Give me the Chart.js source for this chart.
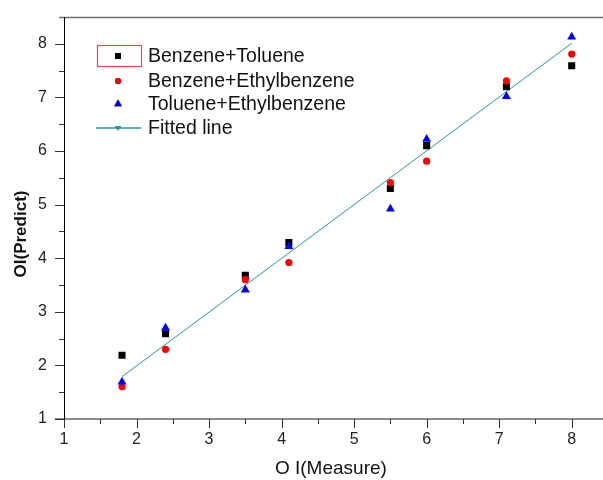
<!DOCTYPE html>
<html>
<head>
<meta charset="utf-8">
<script src="https://cdn.jsdelivr.net/npm/chart.js@4/dist/chart.umd.min.js"></script>
<style>
  html, body { margin: 0; padding: 0; background: #fff; }
  #wrap { width: 603px; height: 480px; }
</style>
</head>
<body>
<div id="wrap"><canvas id="oi-chart"></canvas></div>
<script>
// OI measured vs predicted
const measured = [1.8, 2.4, 3.5, 4.1, 5.5, 6.0, 7.1, 8.0];
const benzeneToluene = [2.19, 2.59, 3.68, 4.29, 5.30, 6.10, 7.20, 7.59];
const benzeneEthylbenzene = [1.60, 2.30, 3.60, 3.92, 5.41, 5.81, 7.31, 7.81];
const tolueneEthylbenzene = [1.69, 2.70, 3.41, 4.22, 4.92, 6.22, 7.02, 8.13];
const fitX = [1.8, 8.0];
const fitY = [1.79, 8.01];
const tickLabels = ['1', '2', '3', '4', '5', '6', '7', '8'];

const FONT = "'Liberation Sans', Arial, sans-serif";

function pairs(xs, ys) {
    return xs.map((x, i) => ({ x: x, y: ys[i] }));
}

const datasets = [
    {
        label: 'Benzene+Toluene',
        data: pairs(measured, benzeneToluene),
        pointStyle: 'rect',
        pointRadius: 5,
        backgroundColor: '#000000',
        borderColor: '#000000',
        borderWidth: 0,
        showLine: false,
        order: 3
    },
    {
        label: 'Benzene+Ethylbenzene',
        data: pairs(measured, benzeneEthylbenzene),
        pointStyle: 'circle',
        pointRadius: 3.6,
        backgroundColor: '#ff0000',
        borderColor: '#ff0000',
        borderWidth: 0,
        showLine: false,
        order: 2
    },
    {
        label: 'Toluene+Ethylbenzene',
        data: pairs(measured, tolueneEthylbenzene),
        pointStyle: 'triangle',
        pointRadius: 5.2,
        backgroundColor: '#0000ff',
        borderColor: '#0000ff',
        borderWidth: 0,
        showLine: false,
        order: 1
    },
    {
        label: 'Fitted line',
        data: pairs(fitX, fitY),
        pointRadius: 0,
        borderColor: '#2a9898',
        borderWidth: 1,
        showLine: true,
        fill: false,
        order: 4
    }
];

// axis frame, major/minor ticks, y title and the legend box
const framePlugin = {
    id: 'frame',
    afterDraw(chart) {
        const ctx = chart.ctx;
        const area = chart.chartArea;
        const xs = chart.scales.x;
        const ys = chart.scales.y;
        ctx.save();

        // top frame
        ctx.strokeStyle = '#707070';
        ctx.lineWidth = 1.5;
        ctx.beginPath();
        ctx.moveTo(59, area.top + 0.5);
        ctx.lineTo(chart.width, area.top + 0.5);
        ctx.stroke();

        // bottom axis
        ctx.strokeStyle = '#666666';
        ctx.lineWidth = 1.3;
        ctx.beginPath();
        ctx.moveTo(55, area.bottom);
        ctx.lineTo(chart.width, area.bottom);
        ctx.stroke();

        // left axis
        ctx.strokeStyle = '#000000';
        ctx.lineWidth = 1;
        ctx.beginPath();
        ctx.moveTo(area.left + 0.5, area.top);
        ctx.lineTo(area.left + 0.5, area.bottom + 9);
        ctx.stroke();

        // ticks
        ctx.strokeStyle = '#333333';
        for (let v = 1; v <= 8; v += 0.5) {
            const len = Number.isInteger(v) ? 9 : 5;
            const px = Math.round(xs.getPixelForValue(v)) + 0.5;
            ctx.beginPath();
            ctx.moveTo(px, area.bottom);
            ctx.lineTo(px, area.bottom + len);
            ctx.stroke();
            const py = Math.round(ys.getPixelForValue(v)) + 0.5;
            ctx.beginPath();
            ctx.moveTo(area.left, py);
            ctx.lineTo(area.left - len, py);
            ctx.stroke();
        }

        // y title
        ctx.save();
        ctx.translate(21, 234);
        ctx.rotate(-Math.PI / 2);
        ctx.fillStyle = '#111111';
        ctx.font = 'bold 17px ' + FONT;
        ctx.textAlign = 'center';
        ctx.textBaseline = 'middle';
        ctx.fillText('OI(Predict)', 0, 0);
        ctx.restore();

        // legend
        const rows = [56, 81, 104, 128];
        const symX = 118;
        ctx.strokeStyle = '#e84848';
        ctx.lineWidth = 1.2;
        ctx.strokeRect(97.5, 45.5, 44, 21);

        chart.data.datasets.forEach((ds, i) => {
            const y = rows[i];
            if (ds.showLine) {
                ctx.strokeStyle = ds.borderColor;
                ctx.lineWidth = 1.5;
                ctx.beginPath();
                ctx.moveTo(96, y);
                ctx.lineTo(141, y);
                ctx.stroke();
                ctx.fillStyle = ds.borderColor;
                ctx.beginPath();
                ctx.moveTo(symX - 3.5, y - 2);
                ctx.lineTo(symX + 3.5, y - 2);
                ctx.lineTo(symX, y + 3);
                ctx.closePath();
                ctx.fill();
            } else {
                Chart.helpers.drawPoint(ctx, {
                    pointStyle: ds.pointStyle,
                    radius: ds.pointRadius * 0.85,
                    rotation: 0,
                    borderWidth: 0
                }, symX, y);
                ctx.fillStyle = ds.backgroundColor;
                ctx.fill();
            }
            ctx.fillStyle = '#111111';
            ctx.font = '19.5px ' + FONT;
            ctx.textAlign = 'left';
            ctx.textBaseline = 'middle';
            ctx.fillText(ds.label, 148, y + 1);
        });

        ctx.restore();
    }
};

const config = {
    type: 'scatter',
    data: { datasets: datasets },
    options: {
        responsive: true,
        maintainAspectRatio: false,
        animation: false,
        layout: {
            padding: { top: 17, right: 0, left: 0, bottom: 0 }
        },
        plugins: {
            legend: { display: false },
            tooltip: { enabled: false }
        },
        scales: {
            x: {
                type: 'linear',
                min: 1,
                max: 8.36,
                afterFit(scale) {
                    scale.height = 61;
                    scale.paddingLeft = 0;
                    scale.paddingRight = 0;
                },
                border: { display: false },
                grid: { display: false, drawTicks: false },
                ticks: {
                    stepSize: 1,
                    includeBounds: false,
                    padding: 11,
                    color: '#222222',
                    font: { family: FONT, size: 16 },
                    callback: (v) => tickLabels[v - 1] || ''
                },
                title: {
                    display: true,
                    text: 'O I(Measure)',
                    color: '#111111',
                    padding: { top: 0, bottom: 0 },
                    font: { family: FONT, size: 19 }
                }
            },
            y: {
                type: 'linear',
                min: 1,
                max: 8.5,
                afterFit(scale) {
                    scale.width = 64;
                    scale.paddingTop = 0;
                    scale.paddingBottom = 0;
                },
                border: { display: false },
                grid: { display: false, drawTicks: false },
                ticks: {
                    stepSize: 1,
                    includeBounds: false,
                    padding: 17,
                    color: '#222222',
                    font: { family: FONT, size: 16 },
                    callback: (v) => tickLabels[v - 1] || ''
                }
            }
        }
    },
    plugins: [framePlugin]
};

const oiChart = new Chart(document.getElementById('oi-chart'), config);
</script>
</body>
</html>
